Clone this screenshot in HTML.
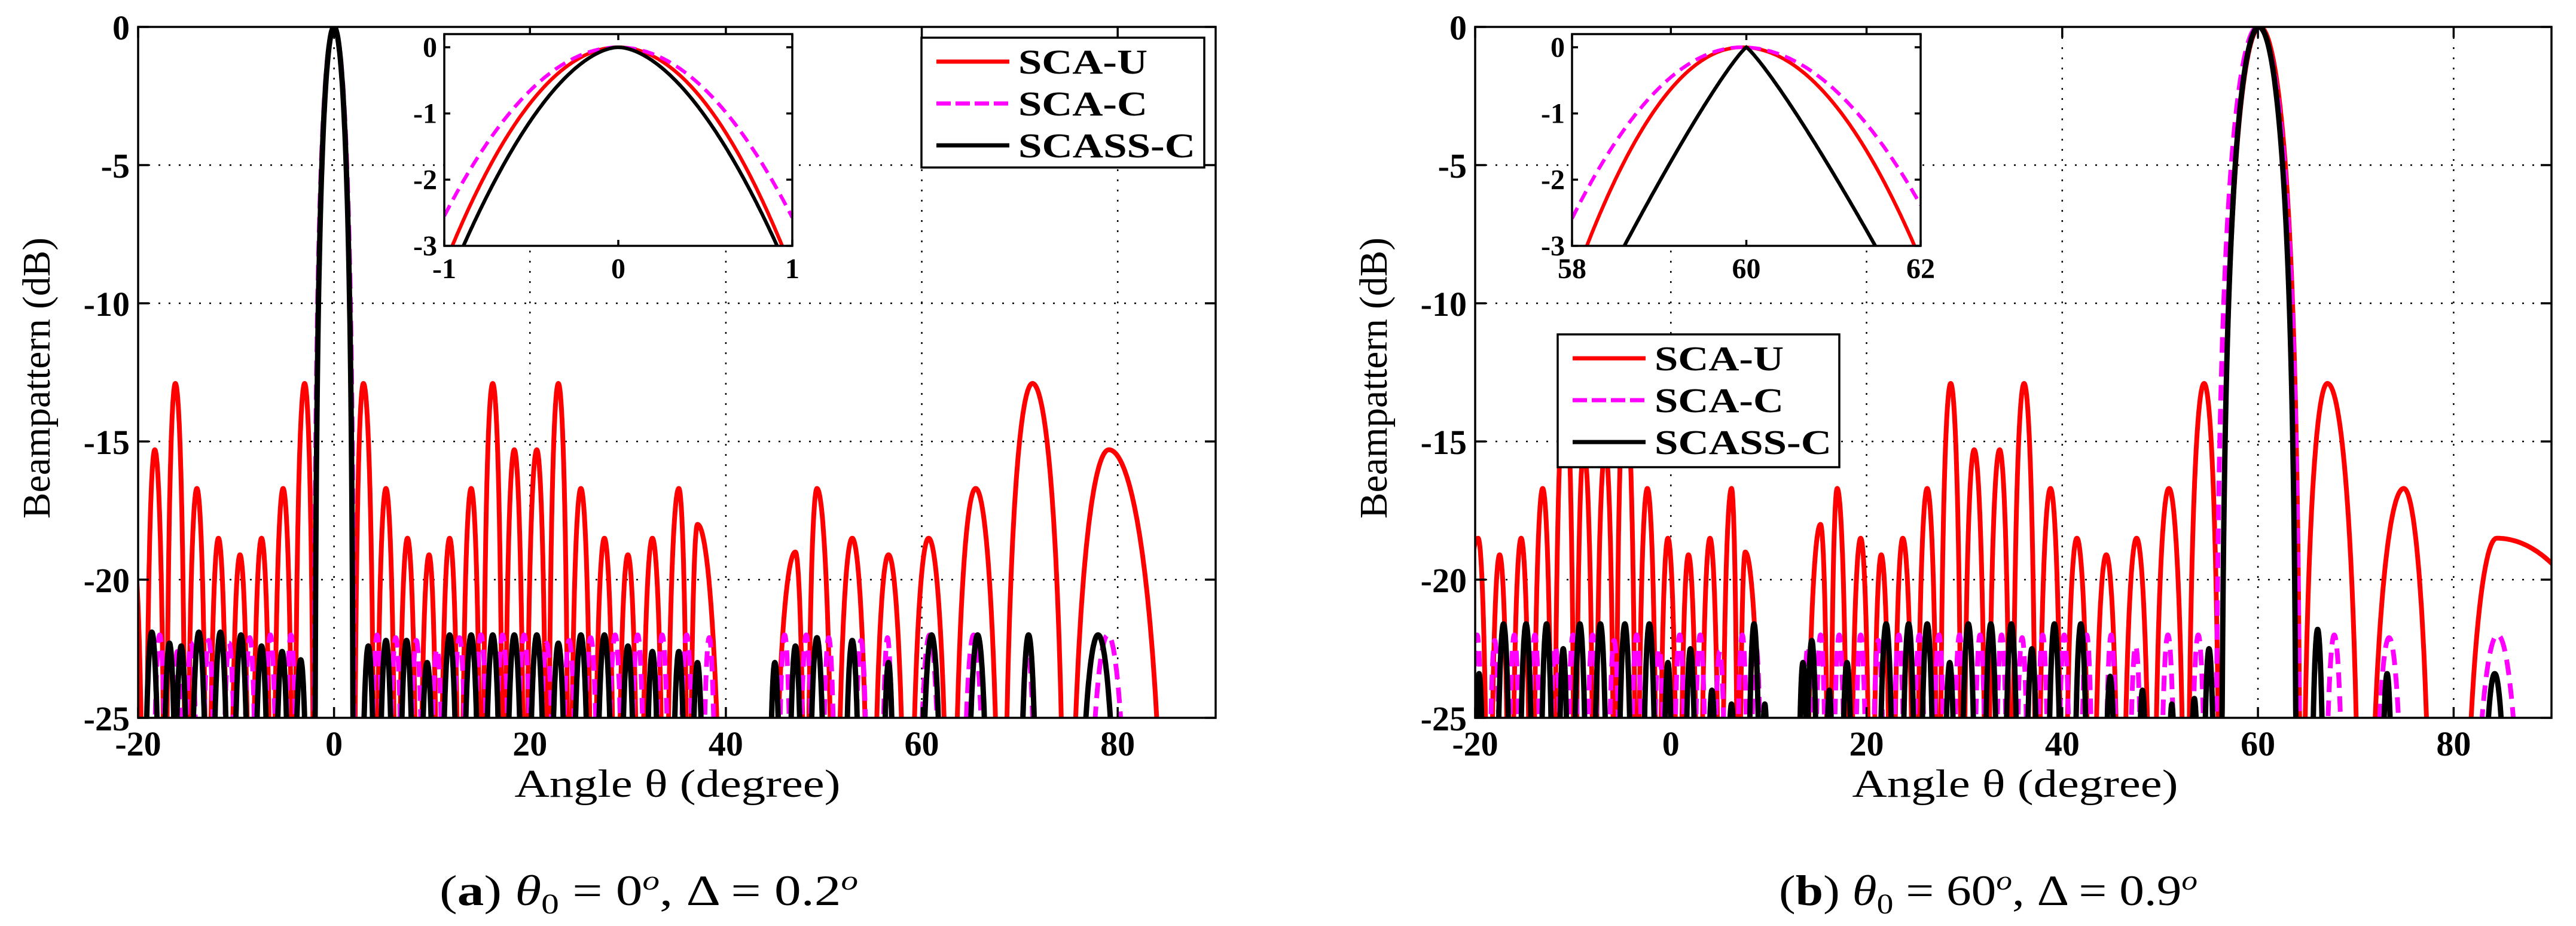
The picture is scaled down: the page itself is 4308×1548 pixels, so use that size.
<!DOCTYPE html>
<html><head><meta charset="utf-8"><style>
html,body{margin:0;padding:0;background:#fff;}
svg{display:block;}
svg text{font-family:"Liberation Serif","Times New Roman",serif;}
</style></head><body>
<svg id="chart" width="4308" height="1548" viewBox="0 0 4308 1548" xmlns="http://www.w3.org/2000/svg" font-family="Liberation Serif, Times New Roman, serif">
<defs>
<clipPath id="clipA"><rect x="231" y="45" width="1802" height="1155"/></clipPath>
<clipPath id="clipB"><rect x="2467" y="45" width="1800" height="1155"/></clipPath>
<clipPath id="clipIA"><rect x="743" y="57" width="582" height="354"/></clipPath>
<clipPath id="clipIB"><rect x="2629" y="57" width="583" height="354"/></clipPath>
</defs>
<g id="root"></g>
</svg>
<script>
// ===== Panel (a) data: lobes [start null, peak angle, end null], peak dB =====
const aRedStart = [-22,-19.3,-17.2,-15.1,-12.9,-10.7,-8.5,-6.3,-4.1,-2.0,2.0,4.2,6.4,8.6,10.7,12.9,15.1,17.3,19.5,21.8,24.0,26.4,28.8,31.2,33.8,36.2,44.5,48.2,51.1,54.8,58.6,63.0,68.2,74.8];
const aRedPeak  = [-20.5,-18.3,-16.2,-14.0,-11.8,-9.6,-7.4,-5.2,-3.0,0,3.0,5.3,7.5,9.7,11.8,14.0,16.2,18.4,20.7,22.9,25.2,27.6,30.0,32.5,35.2,37.1,47.1,49.3,52.9,56.6,60.7,65.5,71.3,79.1];
const aRedEnd   = [-19.3,-17.2,-15.1,-12.9,-10.7,-8.5,-6.3,-4.1,-2.0,2.0,4.2,6.4,8.6,10.7,12.9,15.1,17.3,19.5,21.8,24.0,26.4,28.8,31.2,33.8,36.2,39.9,48.2,51.1,54.8,58.6,63.0,68.2,74.8,85.3];
const aRedDb    = [-19,-15.3,-12.9,-16.7,-18.5,-19.1,-18.5,-16.7,-12.9,0,-12.9,-16.7,-18.5,-19.1,-18.5,-16.7,-12.9,-15.3,-15.3,-12.9,-16.7,-18.5,-19.1,-18.5,-16.7,-18.0,-19.0,-16.7,-18.5,-19.1,-18.5,-16.7,-12.9,-15.3];

const aBlkPeak = [-18.6,-16.8,-15.6,-13.8,-11.6,-9.5,-7.4,-5.3,-3.4,0,3.5,5.3,7.4,9.5,11.8,14.0,16.2,18.4,20.7,22.9,25.2,27.6,30.0,32.5,35.2,37.1,45.0,47.1,49.3,52.9,56.6,61.0,65.7,70.9,78.0];
const aBlkHalf = [0.9,0.8,0.8,0.95,0.95,0.9,0.85,0.85,0.8,2.0,0.8,0.85,0.85,0.85,0.95,0.95,0.95,0.95,0.95,0.9,0.95,0.95,0.85,0.8,0.8,0.75,0.7,0.8,0.95,0.9,0.7,1.2,1.2,1.0,2.5];
const aBlkDb   = [-21.9,-22.3,-22.4,-21.9,-21.9,-22.0,-22.4,-22.6,-22.9,0,-22.4,-22.2,-22.2,-23.0,-22.0,-22.0,-22.0,-22.0,-22.0,-22.3,-22.0,-22.0,-22.4,-22.6,-22.6,-23.0,-23.0,-22.4,-22.1,-22.2,-23.0,-22.0,-22.0,-22.0,-22.0];

const aMagPeak = [-17.8,-16.0,-14.6,-12.8,-10.7,-8.6,-6.5,-4.4,0,4.4,6.3,8.4,10.5,12.8,15.0,17.2,19.4,21.7,24.0,26.2,28.7,31.0,33.5,36.0,38.3,46.0,48.2,50.5,53.8,56.5,60.8,65.3,70.8,79.0];
const aMagHalf = [0.8,0.7,0.8,0.8,0.8,0.8,0.8,0.75,2.1,0.75,0.8,0.8,0.8,0.9,0.9,0.9,0.9,0.9,0.9,0.9,0.9,0.85,0.85,0.85,0.8,0.8,0.8,0.8,0.8,0.7,1.3,1.3,1.0,2.6];
const aMagDb   = [-22.0,-22.6,-22.3,-22.2,-22.3,-22.1,-22.0,-22.0,0,-22.0,-22.1,-22.2,-22.5,-22.1,-22.0,-22.0,-22.0,-22.3,-22.2,-22.1,-22.0,-22.0,-22.0,-22.0,-22.1,-22.0,-22.0,-22.1,-22.2,-22.1,-22.0,-22.0,-22.6,-22.0];

// ===== Panel (b) data =====
const bRedStart = [-22,-18.6,-16.4,-14.2,-12.0,-9.8,-7.8,-5.7,-3.5,-1.3,0.8,2.9,5.1,6.9,13.6,16.2,18.2,20.5,22.6,25.0,27.4,29.8,32.3,34.8,37.4,40.1,43.0,46.0,49.2,52.7,56.2,64.4,71.0,80.6];
const bRedPeak  = [-19.7,-17.5,-15.3,-13.1,-10.8,-8.9,-6.7,-4.7,-2.4,-0.3,1.8,4.0,6.2,7.6,15.3,17.0,19.4,21.5,23.7,26.2,28.6,31.0,33.6,36.1,38.8,41.5,44.5,47.6,50.9,54.5,60.2,67.1,74.9,84.4];
const bRedEnd   = [-18.6,-16.4,-14.2,-12.0,-9.8,-7.8,-5.7,-3.5,-1.3,0.8,2.9,5.1,6.9,9.6,16.2,18.2,20.5,22.6,25.0,27.4,29.8,32.3,34.8,37.4,40.1,43.0,46.0,49.2,52.7,56.2,64.4,70.6,78.0,104];
const bRedDb    = [-18.5,-19.1,-18.5,-16.7,-12.9,-15.3,-15.3,-12.9,-16.7,-18.5,-19.1,-18.5,-16.7,-19.0,-18.0,-16.7,-18.5,-19.1,-18.5,-16.7,-12.9,-15.3,-15.3,-12.9,-16.7,-18.5,-19.1,-18.5,-16.7,-12.9,0,-12.9,-16.7,-18.5];

const bBlkPeak = [-19.6,-17.1,-14.8,-12.7,-11.0,-9.3,-7.2,-4.7,-2.2,-0.3,2.0,4.2,6.2,8.5,9.6,13.5,14.4,16.2,18.0,22.0,24.3,26.2,28.5,30.4,32.7,34.8,36.9,39.2,41.9,44.9,48.2,51.2,53.5,55.0,60.1,66.1,73.2,84.2];
const bBlkHalf = [0.6,0.8,0.8,0.75,0.6,0.8,0.8,0.8,0.8,0.6,0.7,0.6,0.6,0.7,0.5,0.6,0.7,0.5,0.7,0.85,0.8,0.8,0.7,0.85,0.8,0.8,0.75,0.8,0.8,0.7,0.6,0.5,0.6,0.7,3.9,0.75,0.7,1.5];
const bBlkDb   = [-23.4,-21.6,-21.6,-21.6,-22.5,-21.6,-21.6,-21.6,-21.6,-23.0,-22.5,-24.0,-24.5,-21.6,-24.5,-23.0,-22.2,-24.0,-23.0,-21.6,-21.6,-21.6,-23.0,-21.6,-21.6,-21.6,-22.5,-21.6,-21.6,-23.5,-24.0,-24.5,-24.3,-22.5,0,-21.8,-23.4,-23.4];

const bMagPeak = [-19.8,-18.0,-16.0,-13.9,-11.8,-10.0,-8.0,-5.8,-3.5,-1.2,0.9,3.0,5.0,7.3,8.7,14.0,15.3,17.2,19.4,21.2,23.3,25.4,27.4,29.5,31.6,33.8,35.9,38.0,40.2,42.5,45.0,47.5,50.8,53.9,60.0,67.8,73.4,84.5];
const bMagHalf = [0.7,0.7,0.75,0.75,0.75,0.75,0.75,0.75,0.75,0.75,0.75,0.75,0.75,0.7,0.7,0.7,0.7,0.75,0.75,0.75,0.75,0.75,0.75,0.75,0.75,0.75,0.75,0.75,0.75,0.75,0.75,0.8,0.9,0.9,4.4,1.1,1.7,3.2];
const bMagDb   = [-22.0,-22.2,-22.0,-22.0,-22.4,-22.0,-22.0,-22.2,-22.0,-22.5,-22.0,-22.0,-22.6,-22.0,-22.4,-22.4,-22.0,-22.0,-22.0,-22.2,-22.0,-22.0,-22.0,-22.0,-22.0,-22.0,-22.1,-22.0,-22.0,-22.0,-22.0,-22.4,-22.0,-22.0,0,-22.0,-22.1,-22.0];

// ===== Inset data: [centre, left -3dB point, right -3dB point, shape exponent] =====
const insetACenter = [0, 0, 0];
const insetALeft3  = [-0.954, -1.085, -0.89];
const insetARight3 = [0.942, 1.08, 0.913];
const insetAExp    = [2.0, 2.0, 1.75];
const insetBCenter = [59.95, 59.95, 60.0];
const insetBLeft3  = [58.17, 57.85, 58.60];
const insetBRight3 = [61.93, 62.25, 61.48];
const insetBExp    = [2.0, 2.0, 1.15];

const yTicks = [0,-5,-10,-15,-20,-25];
const xTicks = [-20,0,20,40,60,80];
const insetYTicks = [0,-1,-2,-3];
const insetAXTicks = [-1,0,1];
const insetBXTicks = [58,60,62];
const legendLabels = ["SCA-U","SCA-C","SCASS-C"];

const NS = "http://www.w3.org/2000/svg";
const FONT = '"Liberation Serif","Times New Roman",serif';
const root = document.getElementById('root');
function el(tag, attrs, parent, text){
  const e = document.createElementNS(NS, tag);
  for (const k in attrs) e.setAttribute(k, attrs[k]);
  if (tag === 'text') e.style.fontFamily = FONT;
  if (text !== undefined) e.textContent = text;
  (parent || root).appendChild(e);
  return e;
}
const COLORS = ["#ff0000","#ff00ff","#000000"];
const HALF_SCALE = 1.15;

function makePanel(p){
  const g = el('g', {});
  
  
  const X = d => p.x0 + (d - (-20)) / 110 * (p.x1 - p.x0);
  const Y = v => p.y0 + (0 - v) / 25 * (p.y1 - p.y0);
  el('rect', {x:p.x0, y:p.y0, width:p.x1-p.x0, height:p.y1-p.y0, fill:'#fff'}, g);
  const grid = el('g', {stroke:'#000','stroke-width':2.5,'stroke-dasharray':'3 14'}, g);
  
  
  xTicks.forEach(t => { if (t > -20) el('line', {x1:X(t), x2:X(t), y1:p.y0, y2:p.y1}, grid); });
  yTicks.forEach(t => { if (t < 0 && t > -25) el('line', {x1:p.x0, x2:p.x1, y1:Y(t), y2:Y(t)}, grid); });

  function lobePath(starts, peaks, ends, dbs){
    let d = '';
    for (let i = 0; i < peaks.length; i++){
      const a = starts[i], c = peaks[i], b = ends[i], pk = dbs[i];
      const steps = 160;
      for (let s = 0; s <= steps; s++){
        const t = a + (b - a) * s / steps;
        let u = t < c ? 0.5 * (t - a) / (c - a) : 0.5 + 0.5 * (t - c) / (b - c);
        let sv = Math.sin(Math.PI * u);
        let v = sv <= 1e-6 ? -60 : pk + 20 * Math.log10(sv);
        if (v < -25.6) v = -25.6;
        d += (s === 0 ? 'M' : 'L') + X(t).toFixed(1) + ' ' + Y(v).toFixed(1);
      }
    }
    return d;
  }
  const sg = el('g', {'clip-path':'url(#' + p.clip + ')', fill:'none','stroke-linejoin':'round'}, g);
  const hs = (arr, i) => (arr[i] > 1.8 ? arr[i] : arr[i] * HALF_SCALE);
  const sets = [
    [p.redStart, p.redPeak, p.redEnd, p.redDb],
    [p.magPeak.map((c,i)=>c - hs(p.magHalf,i)), p.magPeak, p.magPeak.map((c,i)=>c + hs(p.magHalf,i)), p.magDb],
    [p.blkPeak.map((c,i)=>c - hs(p.blkHalf,i)), p.blkPeak, p.blkPeak.map((c,i)=>c + hs(p.blkHalf,i)), p.blkDb]
  ];
  const widths = [8, 8, 9];
  sets.forEach((s, i) => {
    const path = el('path', {d: lobePath(s[0], s[1], s[2], s[3]), stroke: COLORS[i], 'stroke-width': widths[i]}, sg);
    if (i === 1) path.setAttribute('stroke-dasharray', '26 14');
    
    
  });

  const ax = el('g', {stroke:'#000','stroke-width':3.5, fill:'none'}, g);
  
  
  el('rect', {x:p.x0, y:p.y0, width:p.x1-p.x0, height:p.y1-p.y0}, ax);
  xTicks.forEach(t => {
    el('line', {x1:X(t), x2:X(t), y1:p.y1, y2:p.y1-18}, ax);
    el('line', {x1:X(t), x2:X(t), y1:p.y0, y2:p.y0+18}, ax);
  });
  yTicks.forEach(t => {
    el('line', {x1:p.x0, x2:p.x0+18, y1:Y(t), y2:Y(t)}, ax);
    el('line', {x1:p.x1, x2:p.x1-18, y1:Y(t), y2:Y(t)}, ax);
  });
  yTicks.forEach(t => {
    const tx = el('text', {x:p.x0-14, y:Y(t)+21, 'text-anchor':'end', 'font-size':58, 'font-weight':'bold'}, g, String(t));
    
    
  });
  xTicks.forEach(t => {
    const tx = el('text', {x:X(t), y:p.y1+63, 'text-anchor':'middle', 'font-size':58, 'font-weight':'bold'}, g, String(t));
    
    
  });
  const yt = el('text', {x:0, y:0, transform:'translate(' + (p.x0-148) + ',' + 632 + ') rotate(-90)', 'text-anchor':'middle','font-size':66, textLength:470, lengthAdjust:'spacingAndGlyphs'}, g, 'Beampattern (dB)');
  
  
  const xt = el('text', {x:p.xtc, y:1332, 'text-anchor':'middle','font-size':66, textLength:545, lengthAdjust:'spacingAndGlyphs'}, g, 'Angle θ (degree)');
  
  

  // inset
  const ig = el('g', {}, g);
  
  
  const ix0 = p.ix0, ix1 = p.ix1, iy0 = 57, iy1 = 411;
  const IX = d => ix0 + (d - p.ixMin) / (p.ixMax - p.ixMin) * (ix1 - ix0);
  const IY = v => 79 + (0 - v) / 3 * (iy1 - 79);
  el('rect', {x:ix0, y:iy0, width:ix1-ix0, height:iy1-iy0, fill:'#fff'}, ig);
  const ic = el('g', {'clip-path':'url(#' + p.iclip + ')', fill:'none'}, ig);
  for (let i = 0; i < 3; i++){
    let d = '';
    const c = p.iCenter[i], L = p.iLeft[i], R = p.iRight[i], k = p.iExp[i];
    for (let s = 0; s <= 300; s++){
      const t = p.ixMin + (p.ixMax - p.ixMin) * s / 300;
      const w = t < c ? (c - L) : (R - c);
      const v = -3 * Math.pow(Math.abs(t - c) / w, k);
      d += (s ? 'L' : 'M') + IX(t).toFixed(1) + ' ' + IY(Math.max(v, -3.4)).toFixed(1);
    }
    const path = el('path', {d:d, stroke:COLORS[i], 'stroke-width':6}, ic);
    if (i === 1) path.setAttribute('stroke-dasharray', '20 11');
    
    
  }
  const iax = el('g', {stroke:'#000','stroke-width':3.5, fill:'none'}, ig);
  el('rect', {x:ix0, y:iy0, width:ix1-ix0, height:iy1-iy0}, iax);
  p.ixTicks.forEach(t => {
    el('line', {x1:IX(t), x2:IX(t), y1:iy1, y2:iy1-10}, iax);
    el('line', {x1:IX(t), x2:IX(t), y1:iy0, y2:iy0+10}, iax);
    const tx = el('text', {x:IX(t), y:465, 'text-anchor':'middle','font-size':48,'font-weight':'bold'}, ig, String(t));
    
    
  });
  insetYTicks.forEach(t => {
    el('line', {x1:ix0, x2:ix0+10, y1:IY(t), y2:IY(t)}, iax);
    el('line', {x1:ix1, x2:ix1-10, y1:IY(t), y2:IY(t)}, iax);
    const tx = el('text', {x:ix0-12, y:IY(t)+16, 'text-anchor':'end','font-size':48,'font-weight':'bold'}, ig, String(t));
    
    
  });

  // legend
  const lg = el('g', {}, g);
  
  
  el('rect', {x:p.lx0, y:p.ly0, width:p.lx1-p.lx0, height:p.ly1-p.ly0, fill:'#fff', stroke:'#000','stroke-width':3.5}, lg);
  legendLabels.forEach((lab, i) => {
    const yy = p.ly0 + 40 + i * 70;
    const e = el('g', {}, lg);
    
    
    const ln = el('line', {x1:p.lx0+25, x2:p.lx0+147, y1:yy, y2:yy, stroke:COLORS[i], 'stroke-width':7}, e);
    if (i === 1) ln.setAttribute('stroke-dasharray','24 8');
    el('text', {x:p.lx0+162, y:yy+20, 'font-size':58, 'font-weight':'bold', textLength:[216,216,296][i], lengthAdjust:'spacingAndGlyphs'}, e, lab);
  });
}

makePanel({name:'panel-a', x0:231, x1:2033, y0:45, y1:1200, clip:'clipA', xtc:1133,
  redStart:aRedStart, redPeak:aRedPeak, redEnd:aRedEnd, redDb:aRedDb,
  magPeak:aMagPeak, magHalf:aMagHalf, magDb:aMagDb,
  blkPeak:aBlkPeak, blkHalf:aBlkHalf, blkDb:aBlkDb,
  ix0:743, ix1:1325, iclip:'clipIA', ixMin:-1, ixMax:1, ixTicks:insetAXTicks,
  iCenter:insetACenter, iLeft:insetALeft3, iRight:insetARight3, iExp:insetAExp,
  lx0:1541, lx1:2014, ly0:63, ly1:280});
makePanel({name:'panel-b', x0:2467, x1:4267, y0:45, y1:1200, clip:'clipB', xtc:3370,
  redStart:bRedStart, redPeak:bRedPeak, redEnd:bRedEnd, redDb:bRedDb,
  magPeak:bMagPeak, magHalf:bMagHalf, magDb:bMagDb,
  blkPeak:bBlkPeak, blkHalf:bBlkHalf, blkDb:bBlkDb,
  ix0:2629, ix1:3212, iclip:'clipIB', ixMin:58, ixMax:62, ixTicks:insetBXTicks,
  iCenter:insetBCenter, iLeft:insetBLeft3, iRight:insetBRight3, iExp:insetBExp,
  lx0:2605, lx1:3076, ly0:559, ly1:781});

function caption(cx, label, t0, d){
  const t = el('text', {x:cx, y:1513, 'text-anchor':'middle', 'font-size':72, textLength:700, lengthAdjust:'spacingAndGlyphs'});
  
  
  el('tspan', {}, t, '(');
  el('tspan', {'font-weight':'bold'}, t, label);
  el('tspan', {}, t, ') ');
  el('tspan', {'font-style':'italic'}, t, 'θ');
  el('tspan', {'font-size':48, dy:14}, t, '0');
  el('tspan', {dy:-14}, t, ' = ' + t0);
  el('tspan', {'font-size':46, 'font-style':'italic', dy:-26}, t, 'o');
  el('tspan', {dy:26}, t, ', Δ = ' + d);
  el('tspan', {'font-size':46, 'font-style':'italic', dy:-26}, t, 'o');
}
caption(1085, 'a', '0', '0.2');
caption(3325, 'b', '60', '0.9');
</script>
</body></html>
